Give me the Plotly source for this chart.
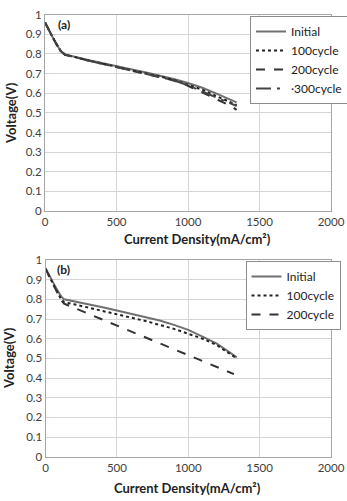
import plotly.graph_objects as go

# ---- Panel (a) data ----
xa = [0, 20, 50, 80, 110, 140, 170, 200, 300, 400, 500, 600, 700, 800, 900, 1000, 1100, 1200, 1300, 1340]
a_initial = [0.96, 0.93, 0.89, 0.85, 0.815, 0.797, 0.791, 0.787, 0.770, 0.753, 0.737, 0.722, 0.707, 0.690, 0.672, 0.652, 0.628, 0.598, 0.567, 0.553]
a_100 = [0.96, 0.93, 0.89, 0.85, 0.815, 0.796, 0.790, 0.786, 0.768, 0.751, 0.735, 0.720, 0.704, 0.686, 0.668, 0.645, 0.618, 0.585, 0.555, 0.540]
a_200 = [0.96, 0.93, 0.89, 0.85, 0.815, 0.796, 0.789, 0.785, 0.767, 0.750, 0.733, 0.717, 0.700, 0.683, 0.665, 0.638, 0.605, 0.572, 0.535, 0.515]
a_300 = [0.96, 0.93, 0.89, 0.85, 0.815, 0.796, 0.789, 0.785, 0.767, 0.750, 0.734, 0.718, 0.702, 0.684, 0.666, 0.640, 0.610, 0.580, 0.548, 0.535]

# ---- Panel (b) data ----
xb = [0, 20, 50, 80, 110, 130, 200, 300, 400, 500, 600, 700, 800, 900, 1000, 1100, 1200, 1300, 1340]
b_initial = [0.96, 0.93, 0.89, 0.85, 0.815, 0.800, 0.790, 0.775, 0.760, 0.743, 0.727, 0.710, 0.692, 0.670, 0.645, 0.610, 0.575, 0.525, 0.505]
b_100 = [0.955, 0.925, 0.88, 0.84, 0.800, 0.785, 0.775, 0.758, 0.742, 0.725, 0.708, 0.690, 0.670, 0.650, 0.625, 0.600, 0.567, 0.522, 0.500]
xb200 = [0, 20, 50, 80, 110, 130, 200, 300, 400, 500, 600, 700, 800, 900, 1000, 1100, 1200, 1300, 1320]
b_200 = [0.955, 0.925, 0.88, 0.835, 0.795, 0.778, 0.757, 0.728, 0.698, 0.668, 0.638, 0.608, 0.578, 0.548, 0.518, 0.490, 0.460, 0.428, 0.420]

x_ticks = [0, 500, 1000, 1500, 2000]
y_ticks = [0, 0.1, 0.2, 0.3, 0.4, 0.5, 0.6, 0.7, 0.8, 0.9, 1]
y_ticklabels = ["0", "0.1", "0.2", "0.3", "0.4", "0.5", "0.6", "0.7", "0.8", "0.9", "1"]

FONT = "Lato"

fig = go.Figure()

def add(x, y, name, dash, color, xaxis, yaxis, legend):
    fig.add_trace(go.Scatter(x=x, y=y, name=name, mode="lines",
                             line=dict(color=color, width=2, dash=dash),
                             xaxis=xaxis, yaxis=yaxis, legend=legend))

add(xa, a_initial, "Initial", "solid", "#707070", "x", "y", "legend")
add(xa, a_100, "100cycle", "dot", "#222222", "x", "y", "legend")
add(xa, a_200, "200cycle", "dash", "#333333", "x", "y", "legend")
add(xa, a_300, "·300cycle", "longdashdot", "#444444", "x", "y", "legend")

add(xb, b_initial, "Initial", "solid", "#707070", "x2", "y2", "legend2")
add(xb, b_100, "100cycle", "dot", "#222222", "x2", "y2", "legend2")
add(xb200, b_200, "200cycle", "dash", "#333333", "x2", "y2", "legend2")

W, H = 347, 501
def px(v): return v / W
def py(v): return 1 - v / H

axis_common = dict(showgrid=True, gridcolor="#d4d4d4", gridwidth=1,
                   showline=True, linecolor="#a6a6a6", linewidth=1, mirror=True,
                   zeroline=False, ticks="", tickfont=dict(family=FONT, size=11.5, color="#404040"))

fig.update_layout(
    width=W, height=H,
    margin=dict(l=0, r=0, t=0, b=0, autoexpand=False),
    paper_bgcolor="white", plot_bgcolor="white",
    showlegend=True,
    xaxis=dict(domain=[px(45), px(331)], range=[0, 2000], tickvals=x_ticks, anchor="y", **axis_common),
    yaxis=dict(domain=[py(211), py(14.7)], range=[0, 1], tickvals=y_ticks, ticktext=y_ticklabels, anchor="x", **axis_common),
    xaxis2=dict(domain=[px(45.5), px(331)], range=[0, 2000], tickvals=x_ticks, anchor="y2", **axis_common),
    yaxis2=dict(domain=[py(456.7), py(260)], range=[0, 1], tickvals=y_ticks, ticktext=y_ticklabels, anchor="x2", **axis_common),
    legend=dict(x=px(250), y=py(16), xanchor="left", yanchor="top",
                bgcolor="white", bordercolor="#8c8c8c", borderwidth=1,
                font=dict(family=FONT, size=12, color="#222222"), itemwidth=30,
                tracegroupgap=0),
    legend2=dict(x=px(245.5), y=py(261), xanchor="left", yanchor="top",
                 bgcolor="white", bordercolor="#8c8c8c", borderwidth=1,
                 font=dict(family=FONT, size=12, color="#222222"), itemwidth=30,
                 tracegroupgap=0),
)

ann_font = dict(family=FONT, size=13, color="#222222")
annotations = [
    dict(text="<b>(a)</b>", x=px(56), y=py(24.5), xref="paper", yref="paper", showarrow=False, xanchor="left", yanchor="middle", font=dict(family=FONT, size=12, color="#222222")),
    dict(text="<b>(b)</b>", x=px(55), y=py(269.5), xref="paper", yref="paper", showarrow=False, xanchor="left", yanchor="middle", font=dict(family=FONT, size=12, color="#222222")),
    dict(text="<b>Current Density(mA/cm²)</b>", x=px(197), y=py(239), xref="paper", yref="paper", showarrow=False, xanchor="center", yanchor="middle", font=ann_font),
    dict(text="<b>Current Density(mA/cm²)</b>", x=px(188), y=py(488), xref="paper", yref="paper", showarrow=False, xanchor="center", yanchor="middle", font=ann_font),
    dict(text="<b>Voltage(V)</b>", x=px(11), y=py(113), xref="paper", yref="paper", showarrow=False, textangle=-90, xanchor="center", yanchor="middle", font=ann_font),
    dict(text="<b>Voltage(V)</b>", x=px(9), y=py(358), xref="paper", yref="paper", showarrow=False, textangle=-90, xanchor="center", yanchor="middle", font=ann_font),
]
fig.update_layout(annotations=annotations)

fig.write_html("out.html")
